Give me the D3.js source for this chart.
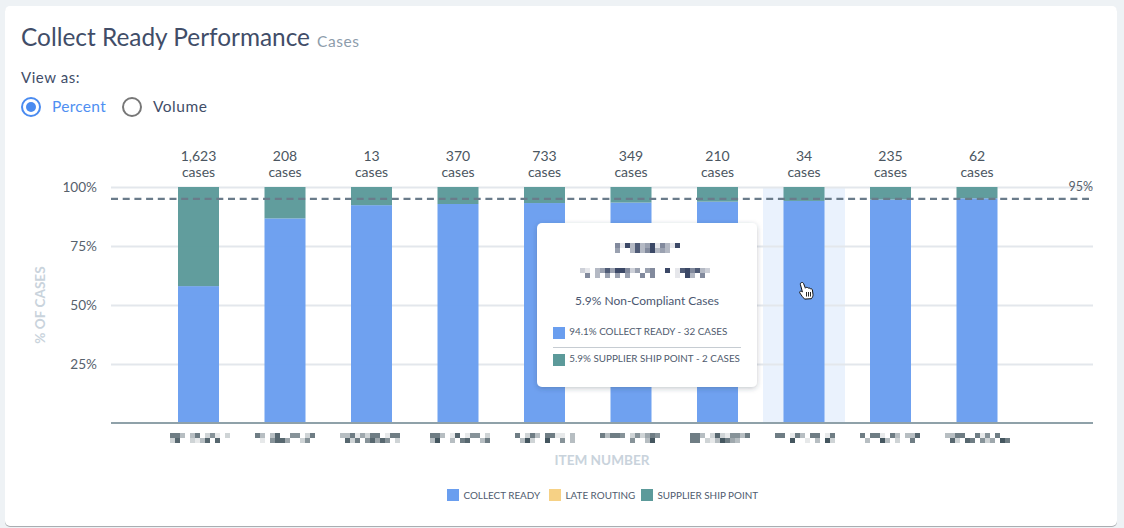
<!DOCTYPE html>
<html>
<head>
<meta charset="utf-8">
<title>Collect Ready Performance</title>
<script src="https://cdn.jsdelivr.net/npm/d3@7"></script>
<style>
	html, body { margin: 0; padding: 0; background: #eef2f5; overflow: hidden; }
	svg { display: block; }
	text { font-family: Lato, "Open Sans", sans-serif; }
</style>
</head>
<body>
<div id="chart"></div>
<script>
// values
var items = ["item1", "item2", "item3", "item4", "item5", "item6", "item7", "item8", "item9", "item10"];
var caseCounts = ["1,623", "208", "13", "370", "733", "349", "210", "34", "235", "62"];
var collectReady = [58, 86.7, 92.3, 92.8, 93.2, 93.4, 93.8, 94.1, 94.7, 95.2];
var lateRouting = [0, 0, 0, 0, 0, 0, 0, 0, 0, 0];
var supplierShipPoint = [42, 13.3, 7.7, 7.2, 6.8, 6.6, 6.2, 5.9, 5.3, 4.8];
var target = 95;
var yTicks = [25, 50, 75, 100];
var seriesNames = ["COLLECT READY", "LATE ROUTING", "SUPPLIER SHIP POINT"];
var seriesColors = ["#6a9eef", "#f6d185", "#5c9a9a"];
var hovered = 7;

// redacted item labels, two rows of blocks, digit = how dark the block is
var itemMosaics = [
	["663036025102", "270021370700"],
	["630370055026", "010577400250"],
	["336142660166", "072605747502"],
	["663017015502", "380030670036"],
	["602630661103", "038200800503"],
	["636650252465", "000000500380"],
	["663027215536", "660213864300"],
	["660163066016", "000800103082"],
	["606610630337", "030083020060"],
	["3366006150600", "0720760524086"]
];
var mosaicStarts = [170, 255, 340, 430, 515, 600, 690, 775, 860, 945];
var tooltipMosaics = [
	{ x: 615, y: 243, rows: ["5183734815318", "4003735834300"] },
	{ x: 580, y: 268, rows: ["21034748852404500801785732", "05030404040050500001083050"] }
];
var tooltipLines = ["94.1% COLLECT READY - 32 CASES", "5.9% SUPPLIER SHIP POINT - 2 CASES"];
var tooltipColors = [seriesColors[0], seriesColors[2]];

var w = 1124;
var h = 528;
var plotLeft = 111;
var plotRight = 1093;
var plotTop = 187;
var plotBottom = 423;
var cellSize = 5;

var svg = d3.select("#chart")
	.append("svg")
	.attr("width", w)
	.attr("height", h);

var defs = svg.append("defs");
var shadow = defs.append("filter").attr("id", "tipShadow")
	.attr("x", "-10%").attr("y", "-10%").attr("width", "120%").attr("height", "125%");
shadow.append("feDropShadow")
	.attr("dx", 0).attr("dy", 1.5).attr("stdDeviation", 2.5)
	.attr("flood-color", "#2b3a4a").attr("flood-opacity", 0.28);

// card
svg.append("rect")
	.attr("x", 5).attr("y", 7).attr("width", 1112).attr("height", 520)
	.attr("rx", 5).attr("fill", "#a9adb1");
svg.append("rect")
	.attr("x", 5).attr("y", 6).attr("width", 1112).attr("height", 520)
	.attr("rx", 5).attr("fill", "#fff");

// header
svg.append("text").attr("x", 21).attr("y", 45.5)
	.attr("font-size", "24.4px").attr("fill", "#414d68")
	.text("Collect Ready Performance");
svg.append("text").attr("x", 317).attr("y", 47)
	.attr("font-size", "15.5px").attr("fill", "#8d9cab")
	.attr("letter-spacing", "0.6px")
	.text("Cases");
svg.append("text").attr("x", 21).attr("y", 83)
	.attr("font-size", "15px").attr("fill", "#414d68")
	.attr("letter-spacing", "0.55px")
	.text("View as:");

// radios
svg.append("circle").attr("cx", 31).attr("cy", 107).attr("r", 9)
	.attr("fill", "#fff").attr("stroke", "#4a8bf0").attr("stroke-width", 2);
svg.append("circle").attr("cx", 31).attr("cy", 107).attr("r", 5)
	.attr("fill", "#4a8bf0");
svg.append("text").attr("x", 52).attr("y", 112)
	.attr("font-size", "15.5px").attr("fill", "#4f8ff2")
	.attr("letter-spacing", "0.3px")
	.text("Percent");
svg.append("circle").attr("cx", 132).attr("cy", 107).attr("r", 9)
	.attr("fill", "#fff").attr("stroke", "#777").attr("stroke-width", 2);
svg.append("text").attr("x", 153).attr("y", 112)
	.attr("font-size", "15.5px").attr("fill", "#414d68")
	.attr("letter-spacing", "0.5px")
	.text("Volume");

// scales
var xScale = d3.scaleBand()
	.domain(items)
	.range([155.25, 1020.25])
	.paddingInner(0.526)
	.paddingOuter(0.263);
var yScale = d3.scaleLinear()
	.domain([0, 100])
	.range([plotBottom, plotTop]);

// highlight behind the hovered bar
svg.append("rect")
	.attr("x", xScale(items[hovered]) + xScale.bandwidth() / 2 - 41)
	.attr("y", plotTop)
	.attr("width", 82)
	.attr("height", plotBottom - plotTop)
	.attr("fill", "#eaf2fd");

// y axis, ticks double as grid lines
var yAxis = d3.axisLeft(yScale)
	.tickValues(yTicks)
	.tickSize(plotLeft - plotRight)
	.tickPadding(14)
	.tickFormat(function(d) { return d + "%"; });
var yAxisG = svg.append("g")
	.attr("transform", "translate(" + plotLeft + ",0)")
	.call(yAxis);
yAxisG.select(".domain").remove();
yAxisG.selectAll("line")
	.attr("transform", "scale(-1,1)")
	.attr("x2", plotLeft - plotRight)
	.attr("stroke", "#e3e7ec")
	.attr("stroke-width", 2);
yAxisG.selectAll("text")
	.attr("x", -14)
	.attr("font-family", "Lato, sans-serif")
	.attr("font-size", "13.6px")
	.attr("fill", "#56616c");

// stacked bars
var table = items.map(function(d, i) {
	return { item: d, ready: collectReady[i], late: lateRouting[i], supplier: supplierShipPoint[i] };
});
var stacked = d3.stack().keys(["ready", "late", "supplier"])(table);
var layers = svg.selectAll(".layer")
	.data(stacked)
	.enter()
	.append("g")
	.attr("class", "layer")
	.attr("fill", function(d, i) { return seriesColors[i]; });
layers.selectAll("rect")
	.data(function(d) { return d; })
	.enter()
	.append("rect")
	.attr("x", function(d) { return xScale(d.data.item); })
	.attr("width", xScale.bandwidth())
	.attr("y", function(d) { return yScale(d[1]); })
	.attr("height", function(d) { return yScale(d[0]) - yScale(d[1]); })
	.attr("fill-opacity", 0.97);

// baseline
svg.append("line")
	.attr("x1", plotLeft).attr("x2", plotRight)
	.attr("y1", plotBottom).attr("y2", plotBottom)
	.attr("stroke", "#8fa1a9").attr("stroke-width", 2);

// target line
svg.append("line")
	.attr("x1", plotLeft).attr("x2", 1089)
	.attr("y1", yScale(target)).attr("y2", yScale(target))
	.attr("stroke", "#6a7b8a").attr("stroke-width", 2.2)
	.attr("stroke-dasharray", "7,4.7");
svg.append("text")
	.attr("x", plotRight).attr("y", 191)
	.attr("text-anchor", "end")
	.attr("font-size", "12.5px").attr("fill", "#56616c")
	.text(target + "%");

// case counts over the bars
var counts = svg.selectAll(".count")
	.data(caseCounts)
	.enter()
	.append("g")
	.attr("class", "count")
	.attr("text-anchor", "middle")
	.attr("font-size", "14px")
	.attr("fill", "#4b5661")
	.attr("transform", function(d, i) {
		return "translate(" + (xScale(items[i]) + xScale.bandwidth() / 2) + ",0)";
	});
counts.append("text").attr("y", 161).text(function(d) { return d; });
counts.append("text").attr("y", 177).text("cases");

function drawMosaic(parent, rows, x0, y0, color) {
	rows.forEach(function(row, r) {
		row.split("").forEach(function(c, i) {
			if (c === "0") return;
			parent.append("rect")
				.attr("x", x0 + i * cellSize)
				.attr("y", y0 + r * cellSize)
				.attr("width", cellSize)
				.attr("height", cellSize)
				.attr("fill", color)
				.attr("opacity", +c / 7.8);
		});
	});
}

itemMosaics.forEach(function(rows, i) {
	drawMosaic(svg, rows, mosaicStarts[i], 433, "#44565f");
});

// axis titles
svg.append("text")
	.attr("transform", "translate(45,305) rotate(-90)")
	.attr("text-anchor", "middle")
	.attr("font-size", "13.6px").attr("font-weight", "bold")
	.attr("fill", "#c9d3dc")
	.text("% OF CASES");
svg.append("text")
	.attr("x", 602).attr("y", 465)
	.attr("text-anchor", "middle")
	.attr("font-size", "13.6px").attr("font-weight", "bold")
	.attr("fill", "#c9d3dc")
	.text("ITEM NUMBER");

// legend
var legendX = [447, 549, 641];
var legend = svg.selectAll(".legend")
	.data(seriesNames)
	.enter()
	.append("g")
	.attr("class", "legend")
	.attr("transform", function(d, i) { return "translate(" + legendX[i] + ",489)"; });
legend.append("rect")
	.attr("width", 12).attr("height", 12)
	.attr("fill", function(d, i) { return seriesColors[i]; });
legend.append("text")
	.attr("x", 16.5).attr("y", 9.6)
	.attr("font-size", "9.9px").attr("fill", "#4f5b6e")
	.text(function(d) { return d; });

// tooltip
svg.append("rect")
	.attr("x", 537).attr("y", 223).attr("width", 220).attr("height", 164)
	.attr("rx", 5).attr("fill", "#fff")
	.attr("filter", "url(#tipShadow)");
tooltipMosaics.forEach(function(m) {
	drawMosaic(svg, m.rows, m.x, m.y, "#3b4866");
});
svg.append("text")
	.attr("x", 647).attr("y", 304.5)
	.attr("text-anchor", "middle")
	.attr("font-size", "12px").attr("fill", "#4b5771")
	.text("5.9% Non-Compliant Cases");
var tipRowY = [327, 354];
var tipRows = svg.selectAll(".tipRow")
	.data(tooltipLines)
	.enter()
	.append("g")
	.attr("class", "tipRow")
	.attr("transform", function(d, i) { return "translate(553," + tipRowY[i] + ")"; });
tipRows.append("rect")
	.attr("width", 12).attr("height", 12)
	.attr("fill", function(d, i) { return tooltipColors[i]; });
tipRows.append("text")
	.attr("x", 16.3).attr("y", 8)
	.attr("font-size", "9.85px").attr("fill", "#4f5b6e")
	.text(function(d) { return d; });
svg.append("line")
	.attr("x1", 553).attr("x2", 741)
	.attr("y1", 347.5).attr("y2", 347.5)
	.attr("stroke", "#c6ccd2").attr("stroke-width", 1);

// hand cursor
svg.append("path")
	.attr("d", "M801,283 c0.8,-1 2.2,-0.6 2.6,0.6 l1.8,4.6 l0.6,-0.6 c0.8,-0.5 1.8,-0.2 2.2,0.6 c0.7,-0.5 1.8,-0.2 2.2,0.7 c0.8,-0.4 1.8,0 2,1 l0.6,4.4 c0.2,1.6 -0.6,3.2 -1.6,4.4 l-6.8,0.4 c-1.6,-1.6 -3.4,-3.8 -4.8,-6.2 c-0.6,-1 0.4,-2.2 1.6,-1.6 l1,0.6 l-2,-7.4 c-0.1,-0.6 0,-1.2 0.3,-1.5 z")
	.attr("fill", "#fff").attr("stroke", "#111").attr("stroke-width", 1);
svg.append("path")
	.attr("d", "M806.5,292 v4.5 M808.5,292 v4.5 M810.5,292 v4.5")
	.attr("stroke", "#111").attr("stroke-width", 0.9).attr("fill", "none");
</script>
</body>
</html>
